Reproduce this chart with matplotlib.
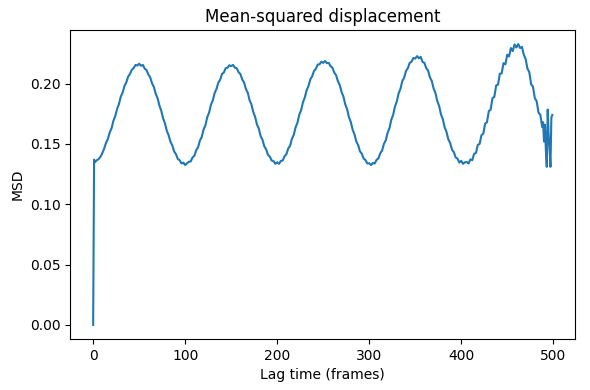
import matplotlib
matplotlib.use("Agg")
import matplotlib.pyplot as plt

lag = [0, 1] + list(range(2, 489, 2)) + list(range(489, 500))

msd = [
    0.0, 0.137,
    # 2 .. 100
    0.1350, 0.1365, 0.1375, 0.1395, 0.1425, 0.1462, 0.1510, 0.1542, 0.1596, 0.1630,
    0.1692, 0.1731, 0.1790, 0.1830, 0.1892, 0.1925, 0.1980, 0.2010, 0.2058, 0.2080,
    0.2115, 0.2128, 0.2155, 0.2150, 0.2165, 0.2148, 0.2155, 0.2125, 0.2112, 0.2075,
    0.2052, 0.2002, 0.1972, 0.1915, 0.1880, 0.1818, 0.1775, 0.1712, 0.1672, 0.1610,
    0.1572, 0.1518, 0.1488, 0.1438, 0.1415, 0.1375, 0.1365, 0.1338, 0.1345, 0.1325,
    # 102 .. 200
    0.1340, 0.1352, 0.1355, 0.1388, 0.1402, 0.1448, 0.1472, 0.1528, 0.1558, 0.1620,
    0.1655, 0.1722, 0.1760, 0.1825, 0.1860, 0.1922, 0.1955, 0.2008, 0.2032, 0.2080,
    0.2092, 0.2128, 0.2132, 0.2152, 0.2145, 0.2155, 0.2132, 0.2128, 0.2095, 0.2080,
    0.2035, 0.2010, 0.1955, 0.1925, 0.1862, 0.1828, 0.1765, 0.1725, 0.1662, 0.1628,
    0.1565, 0.1535, 0.1480, 0.1455, 0.1410, 0.1395, 0.1362, 0.1358, 0.1335, 0.1348,
    # 202 .. 300
    0.1335, 0.1360, 0.1362, 0.1398, 0.1415, 0.1462, 0.1485, 0.1542, 0.1575, 0.1638,
    0.1675, 0.1742, 0.1780, 0.1845, 0.1885, 0.1945, 0.1980, 0.2035, 0.2060, 0.2105,
    0.2122, 0.2158, 0.2160, 0.2182, 0.2172, 0.2188, 0.2170, 0.2172, 0.2145, 0.2132,
    0.2092, 0.2070, 0.2020, 0.1988, 0.1930, 0.1892, 0.1828, 0.1788, 0.1722, 0.1682,
    0.1618, 0.1580, 0.1520, 0.1490, 0.1438, 0.1418, 0.1378, 0.1366, 0.1338, 0.1340,
    # 302 .. 400
    0.1325, 0.1342, 0.1338, 0.1368, 0.1380, 0.1422, 0.1445, 0.1500, 0.1530, 0.1592,
    0.1630, 0.1700, 0.1740, 0.1810, 0.1852, 0.1920, 0.1958, 0.2022, 0.2050, 0.2105,
    0.2128, 0.2172, 0.2182, 0.2212, 0.2208, 0.2228, 0.2210, 0.2222, 0.2180, 0.2172,
    0.2128, 0.2108, 0.2052, 0.2022, 0.1960, 0.1922, 0.1855, 0.1815, 0.1745, 0.1705,
    0.1638, 0.1600, 0.1538, 0.1508, 0.1452, 0.1432, 0.1388, 0.1378, 0.1345, 0.1360,
    # 402 .. 488
    0.1335, 0.1348, 0.1350, 0.1338, 0.1372, 0.1365, 0.1418, 0.1425, 0.1492, 0.1500,
    0.1572, 0.1585, 0.1668, 0.1680, 0.1772, 0.1785, 0.1880, 0.1890, 0.1985, 0.1992,
    0.2082, 0.2085, 0.2170, 0.2160, 0.2240, 0.2225, 0.2295, 0.2270, 0.2325, 0.2300,
    0.2328, 0.2295, 0.2305, 0.2240, 0.2205, 0.2125, 0.2095, 0.1995, 0.1975, 0.1880,
    0.1855, 0.1760, 0.1742, 0.1640,
    # 489 .. 499
    0.1680, 0.1520, 0.1660, 0.1450, 0.1310, 0.1785, 0.1580, 0.1460, 0.1310, 0.1720,
    0.1740,
]

fig, ax = plt.subplots(figsize=(5.9, 3.9), dpi=100)
ax.plot(lag, msd)
ax.set_title("Mean-squared displacement")
ax.set_xlabel("Lag time (frames)")
ax.set_ylabel("MSD")
fig.subplots_adjust(left=0.119, right=0.975, top=0.923, bottom=0.131)
fig.savefig("out.png")
